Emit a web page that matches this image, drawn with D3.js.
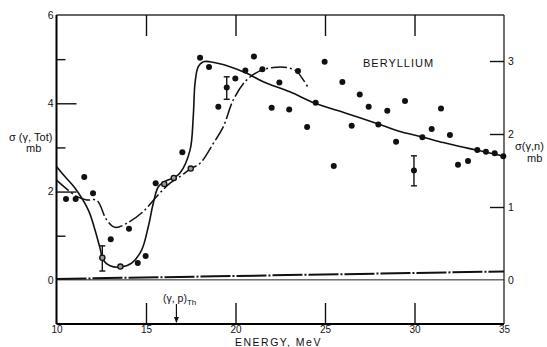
<!DOCTYPE html>
<html lang="en">
<head>
<meta charset="utf-8">
<title>Beryllium photoneutron cross section</title>
<script src="https://cdn.jsdelivr.net/npm/d3@7"></script>
<style>
  body { margin: 0; background: #fff; }
  svg text { font-family: "Liberation Sans", Arial, sans-serif; fill: #111; }
</style>
</head>
<body>
<script>
// measured points (energy MeV, cross section in left-axis mb)
var energy = [10.53, 11.07, 11.55, 12.04, 13.03, 14.05, 14.54, 14.98, 15.54, 17.03,
              18.02, 18.52, 19.04, 19.51, 19.99, 20.55, 21.03, 21.5, 22.02, 22.45,
              23.0, 23.49, 24.0, 24.48, 24.98, 25.49, 25.97, 26.49, 26.94, 27.44,
              27.98, 28.48, 28.97, 29.47, 29.97, 30.44, 30.96, 31.48, 31.98, 32.43,
              32.99, 33.51, 33.99, 34.48, 34.96];
var sigma  = [1.83, 1.83, 2.33, 1.96, 0.92, 1.16, 0.38, 0.54, 2.19, 2.89,
              5.03, 4.82, 3.92, 4.36, 4.56, 4.74, 5.06, 4.77, 3.90, 4.47,
              3.86, 4.73, 3.46, 4.01, 4.94, 2.58, 4.48, 3.49, 4.20, 3.92,
              3.52, 3.83, 3.13, 4.05, 2.48, 3.23, 3.42, 3.88, 3.28, 2.61,
              2.69, 2.94, 2.90, 2.87, 2.80];

// points drawn as open circles
var openEnergy = [12.56, 13.57, 16.02, 16.55, 17.5];
var openSigma  = [0.50, 0.30, 2.17, 2.31, 2.52];

// error bars
var errEnergy = [12.56, 19.51, 29.97];
var errLow    = [0.20, 4.09, 2.13];
var errHigh   = [0.77, 4.60, 2.81];

// solid curve
var solidE = [10.0, 10.47, 11.03, 11.78, 12.15, 12.43, 12.61, 12.99, 13.56, 14.2,
              14.76, 15.13, 15.41, 15.69, 16.06, 16.53, 16.9, 17.46, 17.64, 17.74,
              17.92, 18.2, 18.57, 19.69, 20.63, 21.55, 23.04, 24.44, 26.21, 27.98,
              29.19, 30.4, 31.61, 32.54, 33.47, 35.0];
var solidS = [2.57, 2.34, 2.08, 1.58, 1.13, 0.72, 0.45, 0.32, 0.29, 0.38,
              0.68, 1.21, 1.74, 2.11, 2.23, 2.31, 2.42, 2.94, 3.70, 4.46,
              4.83, 4.94, 4.94, 4.83, 4.68, 4.49, 4.26, 4.00, 3.77, 3.53,
              3.36, 3.24, 3.11, 3.02, 2.94, 2.80];

// dash-dot curve
var dashE = [10.0, 11.13, 11.69, 12.25, 12.8, 13.27, 13.92, 14.85, 15.6, 16.34,
             16.9, 17.5, 18.02, 18.76, 19.32, 19.88, 20.63, 21.46, 22.11, 22.86,
             23.42, 23.79, 24.11];
var dashS = [2.26, 1.89, 1.81, 1.80, 1.36, 1.19, 1.28, 1.55, 1.89, 2.19,
             2.34, 2.52, 2.64, 3.09, 3.47, 4.08, 4.53, 4.75, 4.81, 4.81,
             4.72, 4.53, 4.32];

// baseline (dash-dot, near zero)
var baseE = [10, 35];
var baseS = [0.02, 0.19];

// tick labels
var xTicks = [10, 15, 20, 25, 30, 35];
var leftLabels = [6, 4, 2, 0];
var rightLabels = [3, 2, 1, 0];

var w = 547, h = 347;

var x = d3.scaleLinear().domain([10, 35]).range([56.5, 504]);
var y = d3.scaleLinear().domain([-1, 6]).range([324, 15]);
var yR = d3.scaleLinear().domain([0, 3]).range([280, 61]);

var svg = d3.select("body").append("svg")
  .attr("width", w).attr("height", h);

svg.append("rect").attr("width", w).attr("height", h).attr("fill", "#fff");

// frame
var x0 = x(10), x1 = x(35), yT = y(6), yB = y(-1);
svg.append("line").attr("x1", x0).attr("x2", x1).attr("y1", yT).attr("y2", yT)
  .attr("stroke", "#333").attr("stroke-width", 1.3);
svg.append("line").attr("x1", x1).attr("x2", x1).attr("y1", yT).attr("y2", yB)
  .attr("stroke", "#222").attr("stroke-width", 1.3);
svg.append("line").attr("x1", x0).attr("x2", x0).attr("y1", yT).attr("y2", yB)
  .attr("stroke", "#000").attr("stroke-width", 2);
svg.append("line").attr("x1", x0).attr("x2", x1).attr("y1", yB).attr("y2", yB)
  .attr("stroke", "#000").attr("stroke-width", 2);

// zero line
svg.append("line").attr("x1", x0).attr("x2", x1).attr("y1", y(0)).attr("y2", y(0))
  .attr("stroke", "#222").attr("stroke-width", 1);

function tidy(g) {
  g.select(".domain").remove();
  g.selectAll("line").attr("stroke", "#111").attr("stroke-width", 1.4);
  g.selectAll("text").attr("font-size", 10.5).attr("fill", "#111");
}

// bottom axis: labels + inward ticks
svg.append("g").attr("transform", "translate(0," + yB + ")")
  .call(d3.axisBottom(x).tickValues(xTicks).tickSize(0).tickPadding(2)
        .tickFormat(d3.format("d")))
  .call(tidy)
  .selectAll("text").attr("font-size", 10);
svg.append("g").attr("transform", "translate(0," + yB + ")")
  .call(d3.axisBottom(x).tickValues([15, 20, 25, 30]).tickSize(-21).tickFormat(""))
  .call(tidy);
svg.append("g").attr("transform", "translate(0," + yT + ")")
  .call(d3.axisTop(x).tickValues([15, 20, 25, 30]).tickSize(-21).tickFormat(""))
  .call(tidy);

// left axis
svg.append("g").attr("transform", "translate(" + x0 + ",0)")
  .call(d3.axisLeft(y).tickValues(leftLabels).tickSize(0).tickPadding(3)
        .tickFormat(d3.format("d")))
  .call(tidy);
svg.append("g").attr("transform", "translate(" + x0 + ",0)")
  .call(d3.axisLeft(y).tickValues([4, 2]).tickSize(-20).tickFormat(""))
  .call(tidy);
svg.append("g").attr("transform", "translate(" + x0 + ",0)")
  .call(d3.axisLeft(y).tickValues([5, 3, 1]).tickSize(-9).tickFormat(""))
  .call(tidy);

// right axis
svg.append("g").attr("transform", "translate(" + x1 + ",0)")
  .call(d3.axisRight(yR).tickValues(rightLabels).tickSize(0).tickPadding(4)
        .tickFormat(d3.format("d")))
  .call(tidy);
svg.append("g").attr("transform", "translate(" + x1 + ",0)")
  .call(d3.axisRight(yR).tickValues([3, 2, 1]).tickSize(-14).tickFormat(""))
  .call(tidy);

// curves
var line = d3.line()
  .x(function(d) { return x(d[0]); })
  .y(function(d) { return y(d[1]); })
  .curve(d3.curveCatmullRom.alpha(0.5));

svg.append("path")
  .datum(d3.zip(solidE, solidS))
  .attr("d", line)
  .attr("fill", "none").attr("stroke", "#111").attr("stroke-width", 1.6);

svg.append("path")
  .datum(d3.zip(dashE, dashS))
  .attr("d", line)
  .attr("fill", "none").attr("stroke", "#111").attr("stroke-width", 1.5)
  .attr("stroke-dasharray", "16,3,2,3");

svg.append("path")
  .datum(d3.zip(baseE, baseS))
  .attr("d", d3.line().x(function(d) { return x(d[0]); }).y(function(d) { return y(d[1]); }))
  .attr("fill", "none").attr("stroke", "#111").attr("stroke-width", 2)
  .attr("stroke-dasharray", "30,2,2,2");

// error bars
var errs = d3.range(errEnergy.length);
var eb = svg.append("g").attr("stroke", "#111").attr("stroke-width", 1.4);
eb.selectAll(".v").data(errs).enter().append("line")
  .attr("x1", function(i) { return x(errEnergy[i]); })
  .attr("x2", function(i) { return x(errEnergy[i]); })
  .attr("y1", function(i) { return y(errLow[i]); })
  .attr("y2", function(i) { return y(errHigh[i]); });
eb.selectAll(".lo").data(errs).enter().append("line")
  .attr("x1", function(i) { return x(errEnergy[i]) - 3; })
  .attr("x2", function(i) { return x(errEnergy[i]) + 3; })
  .attr("y1", function(i) { return y(errLow[i]); })
  .attr("y2", function(i) { return y(errLow[i]); });
eb.selectAll(".hi").data(errs).enter().append("line")
  .attr("x1", function(i) { return x(errEnergy[i]) - 3; })
  .attr("x2", function(i) { return x(errEnergy[i]) + 3; })
  .attr("y1", function(i) { return y(errHigh[i]); })
  .attr("y2", function(i) { return y(errHigh[i]); });

// points
svg.append("g").selectAll("circle")
  .data(d3.zip(energy, sigma)).enter().append("circle")
  .attr("cx", function(d) { return x(d[0]); })
  .attr("cy", function(d) { return y(d[1]); })
  .attr("r", 3).attr("fill", "#111");

svg.append("g").selectAll("circle")
  .data(d3.zip(openEnergy, openSigma)).enter().append("circle")
  .attr("cx", function(d) { return x(d[0]); })
  .attr("cy", function(d) { return y(d[1]); })
  .attr("r", 2.6).attr("fill", "#999").attr("stroke", "#111").attr("stroke-width", 1.3);

// threshold arrow
var thE = 16.7;
svg.append("line").attr("x1", x(thE)).attr("x2", x(thE)).attr("y1", 304).attr("y2", yB - 2)
  .attr("stroke", "#111").attr("stroke-width", 1.2);
svg.append("path")
  .attr("d", "M" + (x(thE) - 2.5) + "," + (yB - 7) + "L" + x(thE) + "," + (yB - 1) +
             "L" + (x(thE) + 2.5) + "," + (yB - 7) + "Z")
  .attr("fill", "#111");
var th = svg.append("text").attr("x", 163).attr("y", 302).attr("font-size", 10.5);
th.append("tspan").text("(γ, p)");
th.append("tspan").attr("font-size", 8).attr("dy", 3).text("Th");

// titles
svg.append("text").attr("x", 363).attr("y", 67).attr("font-size", 11)
  .attr("letter-spacing", 1).text("BERYLLIUM");

svg.append("text").attr("x", 235).attr("y", 346).attr("font-size", 10.5)
  .attr("letter-spacing", 1.5).text("ENERGY, MeV");

svg.append("text").attr("x", 9).attr("y", 141).attr("font-size", 11).text("σ (γ, Tot)");
svg.append("text").attr("x", 26).attr("y", 152).attr("font-size", 11).text("mb");

svg.append("text").attr("x", 515).attr("y", 150).attr("font-size", 11).text("σ(γ,n)");
svg.append("text").attr("x", 527).attr("y", 162).attr("font-size", 11).text("mb");
</script>
</body>
</html>
